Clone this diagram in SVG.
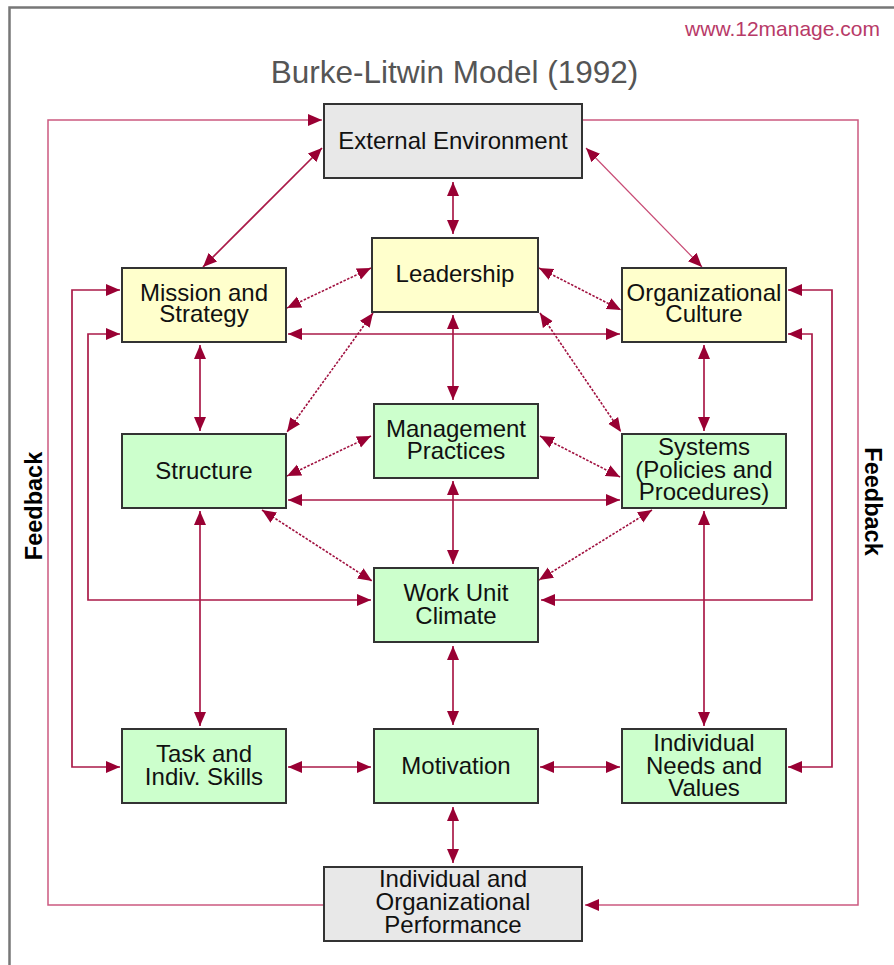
<svg xmlns="http://www.w3.org/2000/svg" width="894" height="965" viewBox="0 0 894 965">
<style>
.box{stroke:#333;stroke-width:2}
.y{fill:#ffffcc}.g{fill:#ccffcc}.n{fill:#e8e8e8}
.t{font-family:"Liberation Sans",Arial,sans-serif;font-size:24px;fill:#111;text-anchor:middle}
.fb{fill:none;stroke:#cc5a80;stroke-width:1.5}
.ln{fill:none;stroke:#aa1a48;stroke-width:1.7}
.dl{fill:none;stroke:#a0103f;stroke-width:1.6;stroke-dasharray:2.5 1.5}
.th{fill:none;stroke:#c84a74;stroke-width:1.2}
.two{marker-start:url(#ah);marker-end:url(#ah)}
.one{marker-end:url(#ah)}
</style>
<defs>
<marker id="ah" markerUnits="userSpaceOnUse" markerWidth="15" markerHeight="13" refX="14" refY="6.5" orient="auto-start-reverse" viewBox="0 0 15 13">
<path d="M0,0.5 L14,6.5 L0,12.5 Z" fill="#990033"/>
</marker>
</defs>
<rect width="894" height="965" fill="#fff"/>
<path d="M9.5,965 V7.5 H894" fill="none" stroke="#777" stroke-width="2.5"/>
<text x="880" y="36" font-family="'Liberation Sans',Arial,sans-serif" font-size="21" fill="#b83a68" text-anchor="end">www.12manage.com</text>
<text x="454.5" y="83" font-family="'Liberation Sans',Arial,sans-serif" font-size="31.5" fill="#555" text-anchor="middle">Burke-Litwin Model (1992)</text>
<text transform="translate(42,506) rotate(-90)" font-family="'Liberation Sans',Arial,sans-serif" font-size="23.5" font-weight="bold" fill="#000" text-anchor="middle">Feedback</text>
<text transform="translate(865,501.5) rotate(90)" font-family="'Liberation Sans',Arial,sans-serif" font-size="23.5" font-weight="bold" fill="#000" text-anchor="middle">Feedback</text>

<g id="connectors">
<path class="fb one" d="M324,905 H48 V120 H322"/>
<path class="fb one" d="M582,120 H858 V905 H585"/>
<path class="ln two" d="M120,290 H72 V767 H120"/>
<path class="ln two" d="M120,334 H88 V600 H371"/>
<path class="ln two" d="M788,290 H832 V767 H788"/>
<path class="ln two" d="M788,334 H812 V600 H541"/>
<path class="ln two" d="M288,334 H620"/>
<path class="ln two" d="M288,500 H620"/>
<path class="ln two" d="M453,182 V234"/>
<path class="ln two" d="M453,315 V400"/>
<path class="ln two" d="M453,481 V564"/>
<path class="ln two" d="M453,646 V725"/>
<path class="ln two" d="M453,807 V863"/>
<path class="ln two" d="M200,345 V431"/>
<path class="ln two" d="M200,511 V726"/>
<path class="ln two" d="M704,345 V431"/>
<path class="ln two" d="M704,511 V726"/>
<path class="ln two" d="M288,767 H371"/>
<path class="ln two" d="M540,767 H620"/>
<path class="ln two" d="M322,148 L203,267"/>
<path class="th two" d="M586,148 L702,267"/>
<path class="dl two" d="M371,268 L287,308"/>
<path class="dl two" d="M539,268 L621,310"/>
<path class="dl two" d="M373,313 L287,432"/>
<path class="dl two" d="M540,313 L621,432"/>
<path class="dl two" d="M371,436 L287,476"/>
<path class="dl two" d="M540,436 L620,477"/>
<path class="dl two" d="M262,510 L372,581"/>
<path class="dl two" d="M652,510 L539,580"/>
</g>

<g id="external-environment"><rect class="box n" x="324" y="104" width="258" height="74"/><text class="t" x="453" y="149">External Environment</text></g>
<g id="leadership"><rect class="box y" x="372" y="238" width="166" height="74"/><text class="t" x="455" y="282">Leadership</text></g>
<g id="mission-strategy"><rect class="box y" x="122" y="268" width="164" height="74"/><text class="t" x="204" y="300.5">Mission and</text><text class="t" x="204" y="322">Strategy</text></g>
<g id="organizational-culture"><rect class="box y" x="622" y="268" width="164" height="74"/><text class="t" x="704" y="300.5">Organizational</text><text class="t" x="704" y="322">Culture</text></g>
<g id="structure"><rect class="box g" x="122" y="434" width="164" height="74"/><text class="t" x="204" y="479">Structure</text></g>
<g id="management-practices"><rect class="box g" x="374" y="404" width="164" height="74"/><text class="t" x="456" y="437">Management</text><text class="t" x="456" y="458.5">Practices</text></g>
<g id="systems"><rect class="box g" x="622" y="434" width="164" height="74"/><text class="t" x="704" y="455">Systems</text><text class="t" x="704" y="478">(Policies and</text><text class="t" x="704" y="500">Procedures)</text></g>
<g id="work-unit-climate"><rect class="box g" x="374" y="568" width="164" height="74"/><text class="t" x="456" y="601">Work Unit</text><text class="t" x="456" y="624">Climate</text></g>
<g id="task-skills"><rect class="box g" x="122" y="729" width="164" height="74"/><text class="t" x="204" y="762">Task and</text><text class="t" x="204" y="785">Indiv. Skills</text></g>
<g id="motivation"><rect class="box g" x="374" y="729" width="164" height="74"/><text class="t" x="456" y="774">Motivation</text></g>
<g id="individual-needs"><rect class="box g" x="622" y="729" width="164" height="74"/><text class="t" x="704" y="751">Individual</text><text class="t" x="704" y="773.5">Needs and</text><text class="t" x="704" y="796">Values</text></g>
<g id="performance"><rect class="box n" x="324" y="867" width="258" height="74"/><text class="t" x="453" y="887">Individual and</text><text class="t" x="453" y="910">Organizational</text><text class="t" x="453" y="933">Performance</text></g>
</svg>
